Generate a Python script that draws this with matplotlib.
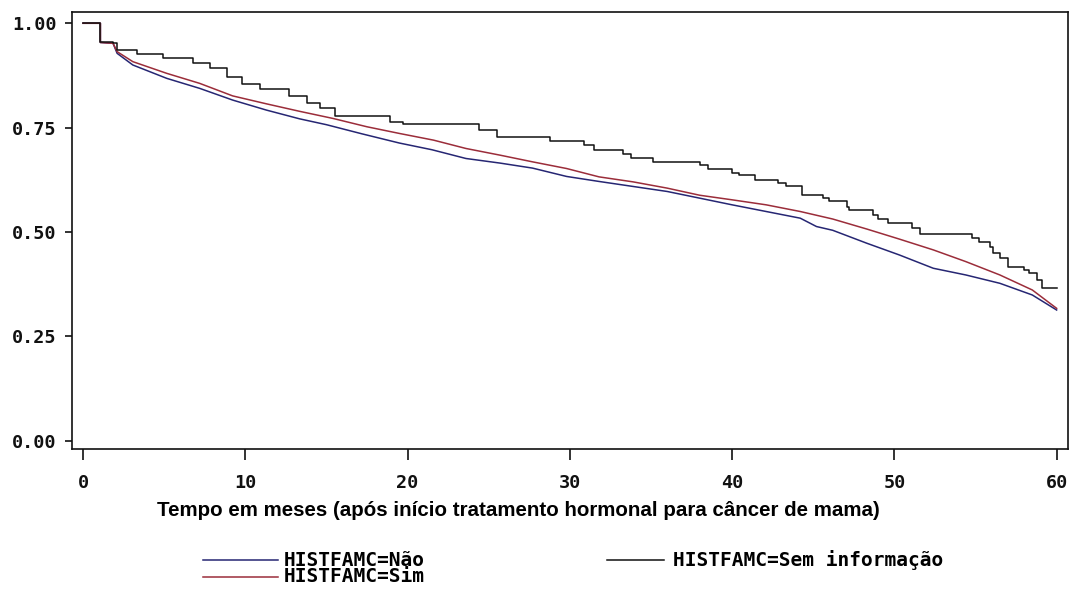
import matplotlib
matplotlib.use("Agg")
import matplotlib.pyplot as plt
from matplotlib.lines import Line2D

# ---- data ----
t_nao = [0, 1.07, 1.07, 1.85, 2.1, 3.07, 5.16, 7.19, 9.22, 11.3, 13.35, 15.0, 17.2, 19.5,
         21.5, 23.6, 25.7, 27.7, 29.8, 31.8, 33.9, 36.0, 38.0, 40.0, 42.1, 44.2, 45.2,
         46.2, 48.3, 50.3, 52.4, 54.4, 56.5, 58.5, 60.0]
s_nao = [1.0, 1.0, 0.954, 0.952, 0.928, 0.900, 0.868, 0.844, 0.816, 0.792, 0.771, 0.757,
         0.735, 0.713, 0.697, 0.676, 0.665, 0.653, 0.633, 0.621, 0.609, 0.597, 0.581, 0.565,
         0.549, 0.533, 0.513, 0.504, 0.473, 0.445, 0.413, 0.397, 0.377, 0.349, 0.313]

t_sim = [0, 1.07, 1.07, 1.85, 2.1, 3.07, 5.16, 7.19, 9.22, 11.3, 13.35, 15.4, 17.5, 19.5,
         21.6, 23.6, 25.7, 27.7, 29.8, 31.8, 33.9, 36.0, 38.0, 40.0, 42.1, 44.2, 46.2,
         48.3, 50.3, 52.4, 54.4, 56.5, 58.5, 60.0]
s_sim = [1.0, 1.0, 0.954, 0.952, 0.932, 0.908, 0.880, 0.856, 0.826, 0.807, 0.789, 0.772,
         0.752, 0.736, 0.720, 0.700, 0.684, 0.668, 0.652, 0.632, 0.620, 0.605, 0.588, 0.577,
         0.565, 0.549, 0.531, 0.507, 0.483, 0.457, 0.429, 0.397, 0.361, 0.317]

t_sem = [0, 1.07, 1.85, 2.08, 3.3, 4.9, 6.8, 7.8, 8.9, 9.8, 10.9, 12.7, 13.8, 14.6, 15.5,
         18.9, 19.7, 24.4, 25.5, 28.8, 30.9, 31.5, 33.3, 33.8, 35.1, 38.0, 38.5, 40.0, 40.4,
         41.4, 42.8, 43.3, 44.3, 45.6, 46.0, 47.1, 47.2, 48.7, 49.0, 49.6, 51.1, 51.6, 54.8,
         55.2, 55.9, 56.1, 56.5, 57.0, 58.0, 58.3, 58.8, 59.1, 60.0]
s_sem = [1.0, 0.954, 0.952, 0.936, 0.926, 0.916, 0.904, 0.892, 0.872, 0.855, 0.842, 0.825,
         0.808, 0.797, 0.777, 0.764, 0.758, 0.744, 0.728, 0.718, 0.708, 0.696, 0.686, 0.677,
         0.668, 0.661, 0.650, 0.642, 0.637, 0.625, 0.617, 0.609, 0.589, 0.581, 0.574, 0.561,
         0.553, 0.541, 0.531, 0.521, 0.509, 0.495, 0.485, 0.477, 0.465, 0.449, 0.437, 0.417,
         0.409, 0.401, 0.385, 0.365, 0.365]

labels = ["HISTFAMC=Não", "HISTFAMC=Sim", "HISTFAMC=Sem informação"]
colors = ["#262673", "#9b2d3a", "#111111"]
xticks = [0, 10, 20, 30, 40, 50, 60]
yticks = [0.00, 0.25, 0.50, 0.75, 1.00]
xlabel = "Tempo em meses (após início tratamento hormonal para câncer de mama)"

W, H = 1074, 591
fig = plt.figure(figsize=(W / 100, H / 100), dpi=100)
ax = fig.add_axes([72 / W, (H - 449) / H, (1068 - 72) / W, (449 - 12) / H])

ax.plot(t_nao, s_nao, color=colors[0], lw=1.1)
ax.plot(t_sim, s_sim, color=colors[1], lw=1.1)
ax.plot(t_sem, s_sem, color=colors[2], lw=1.1, drawstyle="steps-post")

ax.set_xlim(-0.68, 60.7)
ax.set_ylim(-0.020, 1.027)
ax.set_xticks(xticks)
ax.set_yticks(yticks)
ax.set_xticklabels([str(v) for v in xticks])
ax.set_yticklabels(["%.2f" % v for v in yticks])

for lab in ax.get_xticklabels() + ax.get_yticklabels():
    lab.set_fontfamily("DejaVu Sans Mono")
    lab.set_fontweight("bold")
    lab.set_fontsize(13.3)
for sp in ax.spines.values():
    sp.set_linewidth(1.2)
    sp.set_color("#111111")
ax.tick_params(axis="y", length=5, width=1.2, pad=6, colors="#111111")
ax.tick_params(axis="x", length=8, width=1.2, pad=10, colors="#111111")

def fx(px):
    return px / W

def fy(py):
    return 1 - py / H

# axis title placed as in the reference (slightly left of the axes centre)
fig.text(fx(518), fy(511), xlabel, fontsize=14.8, fontweight="bold",
         family=["Liberation Sans", "DejaVu Sans"], ha="center", va="center")

# legend drawn by hand in figure coordinates
mono = {"family": "DejaVu Sans Mono", "weight": "bold", "size": 14}
legend_pos = [(203, 278, 284, 560), (203, 278, 284, 577), (607, 664, 673, 560)]
for (x0, x1, xt, yy), lab, col in zip(legend_pos, labels, colors):
    fig.add_artist(Line2D([fx(x0), fx(x1)], [fy(yy), fy(yy)], color=col, lw=1.1))
    fig.text(fx(xt), fy(yy), lab, va="center", ha="left", **mono)

fig.savefig("out.png", dpi=100, facecolor="white")
